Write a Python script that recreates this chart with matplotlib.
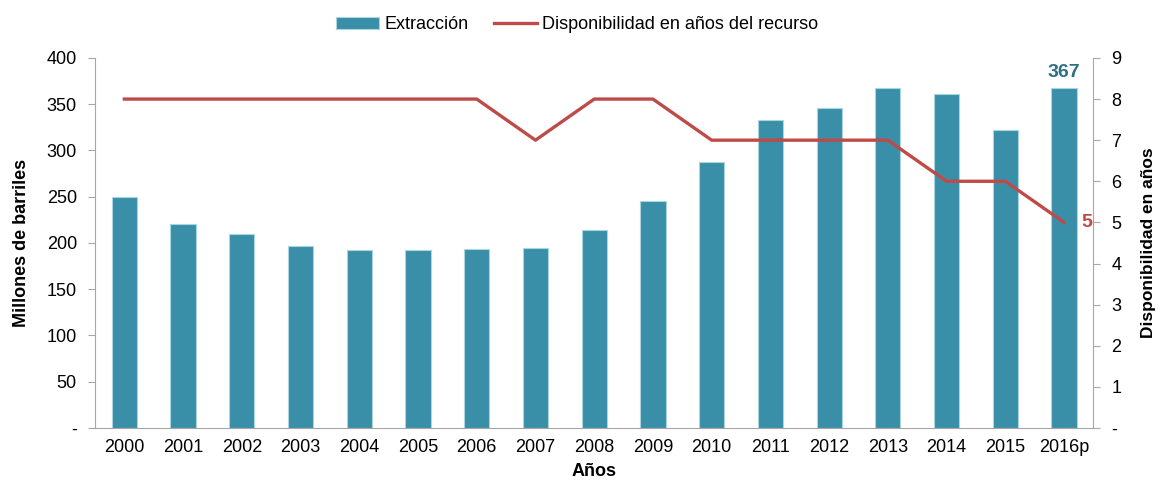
import matplotlib.pyplot as plt
import numpy as np

plt.rcParams['font.family'] = ['Liberation Sans', 'DejaVu Sans']

# data
years = ['2000', '2001', '2002', '2003', '2004', '2005', '2006', '2007', '2008',
         '2009', '2010', '2011', '2012', '2013', '2014', '2015', '2016p']
extraccion = [250, 220, 210, 197, 192, 192, 193, 194, 214,
              245, 287, 333, 346, 368, 361, 322, 367]
disponibilidad = [8, 8, 8, 8, 8, 8, 8, 7, 8, 8, 7, 7, 7, 7, 6, 6, 5]

bar_color = '#3A8FA8'
line_color = '#BE4B48'
spine_color = '#A6A6A6'

fig = plt.figure(figsize=(11.61, 4.83), dpi=100)
ax = fig.add_axes([0.0818, 0.114, 0.860, 0.766])
ax2 = ax.twinx()

x = np.arange(len(years))
bars = ax.bar(x, extraccion, width=0.43, color=bar_color,
              edgecolor='#A9D5E0', linewidth=0.8, label='Extracción', zorder=2)
line, = ax2.plot(x, disponibilidad, color=line_color, linewidth=2.4,
                 label='Disponibilidad en años del recurso', zorder=3)

# left axis
ax.set_xlim(-0.5, len(years) - 0.5)
ax.set_ylim(0, 400)
ax.set_yticks(range(0, 401, 50))
ax.set_yticklabels(['-'] + [str(v) for v in range(50, 401, 50)])
ax.set_xticks(x)
ax.set_xticklabels(years)
ax.tick_params(axis='x', length=0, labelsize=13, pad=8)
ax.tick_params(axis='y', labelsize=13, color=spine_color, length=5, pad=8)
ax.set_ylabel('Millones de barriles', fontsize=13, fontweight='bold', labelpad=12)
ax.set_xlabel('Años', fontsize=13, fontweight='bold', labelpad=5)

# right axis
ax2.set_ylim(0, 9)
ax2.set_yticks(range(0, 10))
ax2.set_yticklabels(['-'] + [str(v) for v in range(1, 10)])
ax2.tick_params(axis='y', labelsize=13, color=spine_color, length=5, pad=8)
ax2.set_ylabel('Disponibilidad en años', fontsize=12.5, fontweight='bold', labelpad=14)

for a in (ax, ax2):
    a.spines['top'].set_visible(False)
    for side in ('left', 'right', 'bottom'):
        a.spines[side].set_color(spine_color)
ax.spines['right'].set_visible(False)
ax2.spines['left'].set_visible(False)
ax2.spines['bottom'].set_visible(False)

# value labels for the last year
ax.text(x[-1], extraccion[-1] + 8, str(extraccion[-1]), color='#2F6F86',
        fontsize=14, fontweight='bold', ha='center', va='bottom')
ax2.text(x[-1] + 0.3, disponibilidad[-1], str(disponibilidad[-1]), color=line_color,
         fontsize=14, fontweight='bold', ha='left', va='center')

fig.legend([bars, line], ['Extracción', 'Disponibilidad en años del recurso'],
           loc='upper center', bbox_to_anchor=(0.497, 1.0), ncol=2, frameon=False,
           fontsize=13, handlelength=2.4, columnspacing=1.4, handletextpad=0.3)

fig.savefig('out.png', dpi=100)
